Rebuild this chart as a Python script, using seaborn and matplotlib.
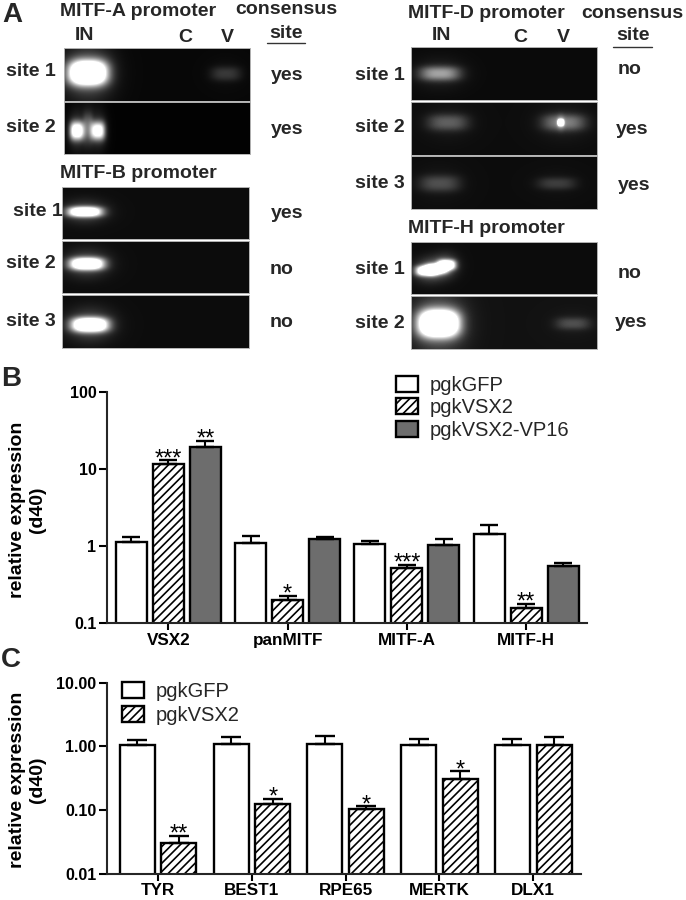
import numpy as np
import pandas as pd
import matplotlib
matplotlib.use('Agg')
import matplotlib.pyplot as plt
import seaborn as sns

W, H = 686, 900

# panel B values
b_genes = ['VSX2', 'panMITF', 'MITF-A', 'MITF-H']
b_series = ['pgkGFP', 'pgkVSX2', 'pgkVSX2-VP16']
b_gfp = [1.13, 1.08, 1.06, 1.43]
b_gfp_top = [1.32, 1.36, 1.16, 1.85]
b_vsx2 = [11.6, 0.20, 0.517, 0.158]
b_vsx2_top = [13.0, 0.226, 0.573, 0.176]
b_vp16 = [19.5, 1.23, 1.04, 0.556]
b_vp16_top = [23.3, 1.30, 1.24, 0.608]
b_stars = [['', '', '', ''], ['***', '*', '***', '**'], ['**', '', '', '']]
b_yticks = [0.1, 1, 10, 100]
b_ylabels = ['0.1', '1', '10', '100']

# panel C values
c_genes = ['TYR', 'BEST1', 'RPE65', 'MERTK', 'DLX1']
c_series = ['pgkGFP', 'pgkVSX2']
c_gfp = [1.05, 1.09, 1.10, 1.05, 1.05]
c_gfp_top = [1.26, 1.38, 1.45, 1.30, 1.29]
c_vsx2 = [0.030, 0.126, 0.104, 0.307, 1.05]
c_vsx2_top = [0.0395, 0.149, 0.114, 0.405, 1.38]
c_stars = [['', '', '', '', ''], ['**', '*', '*', '*', '']]
c_yticks = [0.01, 0.1, 1, 10]
c_ylabels = ['0.01', '0.10', '1.00', '10.00']

# gel strips: left, top, right, bottom, then bands (x, y, half width, half height, brightness)
gel_strips = [
    (63.5, 47.7, 250, 100.7, [(87, 72, 19, 12, 1.7), (225, 73, 15, 7, 0.16)]),
    (63.5, 101.7, 250, 154, [(76, 131, 7, 9, 1.1), (97, 131, 7, 9, 1.0), (87, 128, 5, 14, 0.3)]),
    (62.5, 186.7, 249, 239, [(85, 212, 17, 5, 1.3)]),
    (62.5, 240.7, 249, 293, [(87, 264, 17, 6, 1.4)]),
    (62.5, 294.7, 249, 347.7, [(90, 324, 18, 7, 1.5)]),
    (410.7, 47, 597, 100, [(439, 73, 20, 7, 0.5)]),
    (410.7, 102, 597, 155, [(447, 122, 20, 8, 0.27), (563, 122, 21, 8, 0.38), (560, 122, 3, 3, 1.6)]),
    (410.7, 156, 597, 208.7, [(439, 183, 20, 8, 0.22), (556, 183, 19, 6, 0.16)]),
    (410.7, 241.7, 597, 294.3, [(426, 271, 11, 5, 1.2), (436, 269, 11, 5, 1.2), (446, 265, 9, 5, 1.2)]),
    (410.7, 296, 597, 349, [(438, 323, 20, 13, 1.8), (572, 323, 17, 6, 0.2)]),
]
gel_floor = [0.03, 0.01, 0.05, 0.05, 0.05, 0.04, 0.05, 0.05, 0.05, 0.07]

# gel and side labels: text, x, y
bold_left = [
    ('MITF-A promoter', 60, 11), ('consensus', 235, 10), ('MITF-B promoter', 60, 173),
    ('MITF-D promoter', 408, 13), ('consensus', 581, 13), ('MITF-H promoter', 408, 228),
    ('site 1', 6, 72), ('site 2', 6, 127), ('site 1', 13, 212), ('site 2', 6, 264), ('site 3', 6, 321),
    ('site 1', 355, 75), ('site 2', 355, 128), ('site 3', 355, 184), ('site 1', 355, 270), ('site 2', 355, 324),
    ('yes', 271, 75), ('yes', 271, 129), ('yes', 271, 214), ('no', 270, 270), ('no', 270, 323),
    ('no', 618, 70), ('yes', 616, 129), ('yes', 618, 186), ('no', 618, 273), ('yes', 615, 323),
]
bold_center = [
    ('IN', 85, 36), ('C', 185, 37), ('V', 227, 37), ('site', 286, 33),
    ('IN', 441, 36), ('C', 520, 37), ('V', 563, 37), ('site', 633, 36),
]
underlines = [(267, 305, 43), (613, 652, 47)]
panel_letters = [('A', 2, 15), ('B', 1, 379), ('C', 1, 660)]

sns.set_style('ticks')
plt.rcParams['font.family'] = ['Liberation Sans', 'DejaVu Sans']
plt.rcParams['hatch.linewidth'] = 1.2
plt.rcParams['axes.linewidth'] = 1.5

fig = plt.figure(figsize=(W / 100, H / 100), dpi=100)


def add_axes_px(left, top, right, bottom):
    return fig.add_axes([left / W, 1 - bottom / H, (right - left) / W, (bottom - top) / H])


def draw_gel(strip, floor):
    left, top, right, bottom, bands = strip
    xs, ys = np.meshgrid(np.arange(left, right), np.arange(top, bottom))
    img = np.full(xs.shape, floor, dtype=float)
    for bx, by, hw, hh, peak in bands:
        dx = np.abs(xs - bx) / hw
        dy = np.abs(ys - by) / hh
        img += peak * np.exp(-(dx ** 3 + dy ** 2.5))
        img += 0.2 * peak * np.exp(-(dx / 1.25) ** 2 - (dy / 2.2) ** 2)
    ax = add_axes_px(left, top, right, bottom)
    ax.imshow(np.clip(img, 0, 1), cmap='gray', vmin=0, vmax=1, aspect='auto', interpolation='bilinear')
    ax.set_xticks([])
    ax.set_yticks([])
    for sp in ax.spines.values():
        sp.set_color('#b5b5b5')
        sp.set_linewidth(0.7)


def bar_panel(ax, genes, series, values, tops, stars, yticks, ylabels, ylim, xlim, width, capsize):
    df = pd.DataFrame({
        'gene': np.tile(genes, len(series)),
        'series': np.repeat(series, len(genes)),
        'value': np.concatenate(values),
    })
    palette = ['white', 'white', '#6d6d6d'][:len(series)]
    sns.barplot(data=df, x='gene', y='value', hue='series', hue_order=series, palette=palette,
                width=width, gap=0.16, edgecolor='black', linewidth=1.7, saturation=1,
                log_scale=True, legend=False, errorbar=None, ax=ax)
    bars = list(ax.containers)
    for i, cont in enumerate(bars):
        xpos = []
        for bar in cont:
            xpos.append(bar.get_x() + bar.get_width() / 2)
            if series[i] == 'pgkVSX2':
                bar.set_hatch('////')
        val = np.array(values[i])
        ax.errorbar(xpos, val, yerr=[np.zeros(len(val)), np.array(tops[i]) - val], fmt='none',
                    ecolor='black', elinewidth=1.5, capsize=capsize, capthick=1.7, zorder=5)
        for x, top, star in zip(xpos, tops[i], stars[i]):
            if star:
                ax.annotate(star, (x, top), xytext=(0, -3.5), textcoords='offset points',
                            ha='center', va='baseline', fontsize=17, color='black')
    ax.set_yscale('log')
    ax.set_ylim(*ylim)
    ax.set_xlim(*xlim)
    ax.set_yticks(yticks)
    ax.set_yticklabels(ylabels, fontsize=11.5, fontweight='bold', color='black')
    ax.minorticks_off()
    ax.set_xlabel('')
    ax.set_ylabel('relative expression\n(d40)', fontsize=14, fontweight='bold', color='black',
                  linespacing=1.25)
    ax.tick_params(axis='x', length=5, width=1.5, labelsize=12.3, colors='black', pad=2)
    ax.tick_params(axis='y', length=6, width=1.5, colors='black', pad=2)
    for lab in ax.get_xticklabels():
        lab.set_fontweight('bold')
    sns.despine(ax=ax)
    return bars


for strip, floor in zip(gel_strips, gel_floor):
    draw_gel(strip, floor)

for txt, x, y in bold_left:
    fig.text(x / W, 1 - y / H, txt, fontsize=14, fontweight='bold', ha='left', va='center')
for txt, x, y in bold_center:
    fig.text(x / W, 1 - y / H, txt, fontsize=14, fontweight='bold', ha='center', va='center')
for txt, x, y in panel_letters:
    fig.text(x / W, 1 - y / H, txt, fontsize=20, fontweight='bold', ha='left', va='center')
for x0, x1, y in underlines:
    fig.add_artist(plt.Line2D([x0 / W, x1 / W], [1 - y / H, 1 - y / H], color='#333333', lw=1))

ax_b = add_axes_px(107.5, 392, 587, 623)
bars_b = bar_panel(ax_b, b_genes, b_series, [b_gfp, b_vsx2, b_vp16], [b_gfp_top, b_vsx2_top, b_vp16_top],
                   b_stars, b_yticks, b_ylabels, (0.1, 100), (-0.51, 3.51), 0.93, 6.5)
ax_b.yaxis.set_label_coords(-0.128, 0.49)
ax_b.legend(bars_b, b_series, loc='upper left', bbox_to_anchor=(396 / W, 1 - 376 / H),
            bbox_transform=fig.transFigure, frameon=False, fontsize=14.5, borderpad=0, borderaxespad=0,
            handlelength=1.1, handleheight=0.85, handletextpad=0.55, labelspacing=0.17)

ax_c = add_axes_px(107.5, 682.7, 581, 873.7)
bars_c = bar_panel(ax_c, c_genes, c_series, [c_gfp, c_vsx2], [c_gfp_top, c_vsx2_top],
                   c_stars, c_yticks, c_ylabels, (0.01, 10), (-0.54, 4.51), 0.889, 7)
ax_c.yaxis.set_label_coords(-0.13, 0.49)
ax_c.legend(bars_c, c_series, loc='upper left', bbox_to_anchor=(122 / W, 1 - 682 / H),
            bbox_transform=fig.transFigure, frameon=False, fontsize=14.5, borderpad=0, borderaxespad=0,
            handlelength=1.1, handleheight=0.85, handletextpad=0.55, labelspacing=0.25)

fig.savefig('out.png', dpi=100, facecolor='white')
